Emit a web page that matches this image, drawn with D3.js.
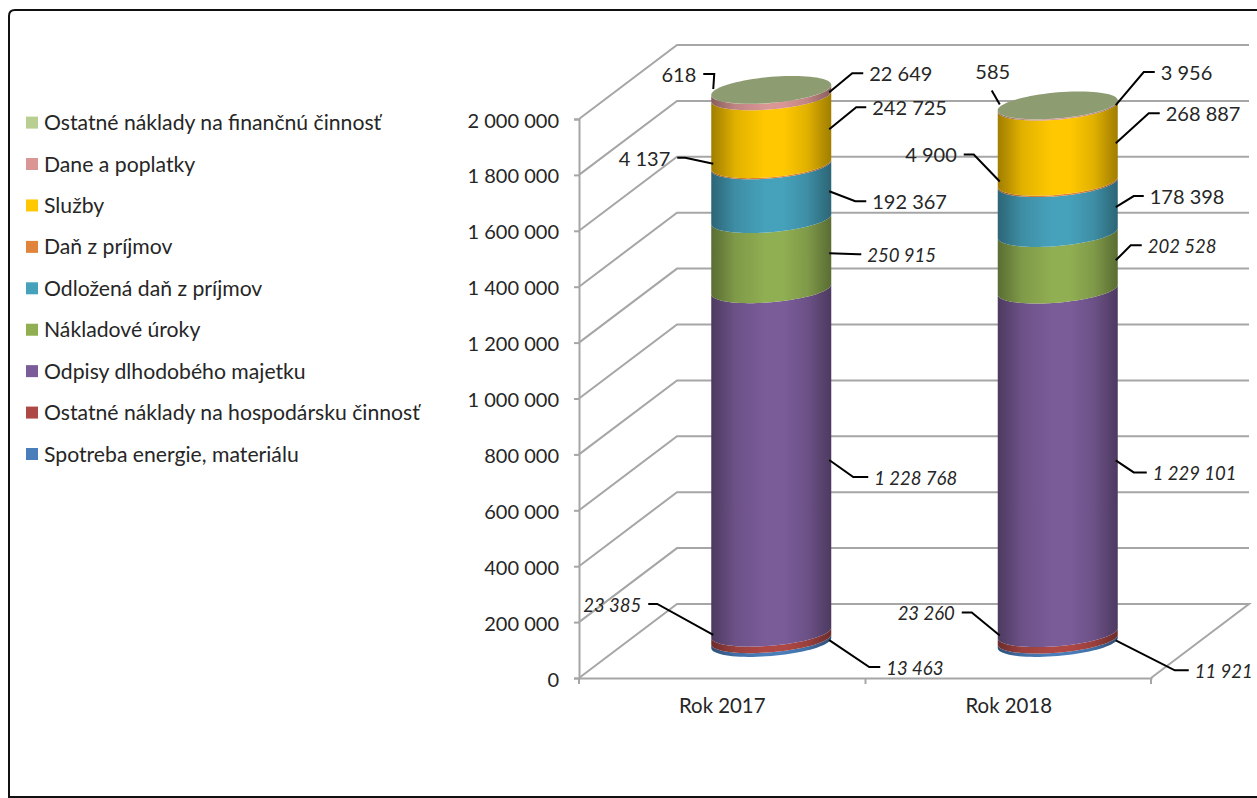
<!DOCTYPE html>
<html>
<head>
<meta charset="utf-8">
<script src="https://d3js.org/d3.v7.min.js"></script>
<style>
  body { margin: 0; background: #fff; }
  text { font-family: Lato, "Open Sans", sans-serif; fill: #262626; }
  .axis path, .axis line { stroke: #a6a6a6; stroke-width: 2; }
  .axis text { font-size: 20px; }
</style>
</head>
<body>
<div id="chart"></div>
<script>
// values
var categories = ["Rok 2017", "Rok 2018"];
var seriesNames = [
  "Spotreba energie, materiálu",
  "Ostatné náklady na hospodársku činnosť",
  "Odpisy dlhodobého majetku",
  "Nákladové úroky",
  "Odložená daň z príjmov",
  "Daň z príjmov",
  "Služby",
  "Dane a poplatky",
  "Ostatné náklady na finančnú činnosť"
];
var values2017 = [13463, 23385, 1228768, 250915, 192367, 4137, 242725, 22649, 618];
var values2018 = [11921, 23260, 1229101, 202528, 178398, 4900, 268887, 3956, 585];
var yTicks = [0, 200000, 400000, 600000, 800000, 1000000, 1200000, 1400000, 1600000, 1800000, 2000000];
var seriesColors = ["#4a7ebb", "#ae4845", "#7a5c99", "#90ae52", "#46a1bb", "#e0843c", "#ffc800", "#d99694", "#b9ce91"];
var italicSeries = [true, true, true, true, false, false, false, false, false];

// leader lines: side, elbow offset from the anchor, length of the flat end
var leaders2017 = [
  ["r", 40, 27, 11], ["l", -56, -31, -9], ["r", 24, 17, 15], ["r", 29, 1, 3], ["r", 26, 10, 11],
  ["l", -28, -6, -8], ["r", 27, -22, 10], ["r", 23, -19, 11], ["l", 1, -15, -11]
];
var leaders2018 = [
  ["r", 59, 30, 14], ["l", -28, -23, -10], ["r", 18, 12, 13], ["r", 15, -15, 11], ["r", 18, -11, 10],
  ["l", -26, -27, -10], ["r", 33, -30, 11], ["r", 28, -33, 11], ["l", -8, -14, 0]
];

var svgWidth = 1257, svgHeight = 798;
var plot = { left: 579, right: 1151, top: 119, bottom: 678 };
var depth = { x: 98, y: -74 };
var rx = 60, ry = 13, tilt = 5;

var svg = d3.select("#chart").append("svg")
  .attr("width", svgWidth)
  .attr("height", svgHeight)
  .style("display", "block");

var y = d3.scaleLinear().domain([0, 2000000]).range([plot.bottom, plot.top]);
var x = d3.scaleBand().domain(categories).range([plot.left, plot.right + 1]);

// frame
svg.append("path")
  .attr("d", "M9,798 V16 Q9,10 15,10 H1257 M9,797 H1257")
  .attr("fill", "none")
  .attr("stroke", "#111")
  .attr("stroke-width", 2);

// walls and gridlines
var grid = svg.append("g").attr("fill", "none").attr("stroke", "#a6a6a6").attr("stroke-width", 2);
grid.selectAll("path.wall")
  .data(yTicks.slice(1))
  .enter().append("path")
  .attr("class", "wall")
  .attr("d", d => `M${plot.left},${y(d)} L${plot.left + depth.x},${y(d) + depth.y} H${plot.right + depth.x}`);
grid.append("path")
  .attr("d", `M${plot.left},${y(0)} L${plot.left + depth.x},${y(0) + depth.y} H${plot.right + depth.x} L${plot.right},${y(0)}`);

// axes
var yAxis = svg.append("g")
  .attr("class", "axis")
  .attr("transform", `translate(${plot.left},0)`)
  .call(d3.axisLeft(y).tickValues(yTicks).tickSize(5).tickPadding(15)
    .tickFormat(d => d3.format(",")(d).replace(/,/g, " ")));
yAxis.selectAll("text").attr("dy", "0.4em");

var xAxis = svg.append("g")
  .attr("class", "axis")
  .attr("transform", `translate(0,${plot.bottom})`)
  .call(d3.axisBottom(x).tickSize(0).tickPadding(21));
xAxis.selectAll("text").style("font-size", "20.4px");
xAxis.selectAll("line.boundary")
  .data([plot.left, x(categories[1]), plot.right])
  .enter().append("line")
  .attr("class", "boundary")
  .attr("x1", d => d).attr("x2", d => d)
  .attr("y1", 0).attr("y2", 6);

// gradients, dark at the sides of the cylinder
var defs = svg.append("defs");
var shadeStops = [[0, 1.3], [8, 0.9], [20, 0.35], [45, 0], [60, 0], [80, 0.35], [92, 0.9], [100, 1.3]];
seriesColors.forEach(function(c, i) {
  var g = defs.append("linearGradient").attr("id", "grad" + i);
  shadeStops.forEach(function(s) {
    g.append("stop").attr("offset", s[0] + "%").attr("stop-color", d3.color(c).darker(s[1]));
  });
});

function frontCurve(cx, cy) {
  return d3.range(0, 41).map(function(i) {
    var t = Math.PI * i / 40;
    return [cx + rx * Math.cos(t), cy + ry * Math.sin(t) - tilt * Math.cos(t)];
  });
}

var baseShift = depth.y / 2 + 2;
var line = d3.line();
var fmt = d => d3.format(",")(d).replace(/,/g, " ");

function drawCylinder(category, values, leaders) {
  var cx = x(category) + x.bandwidth() / 2 + depth.x / 2;
  var g = svg.append("g");
  var cum = 0;
  var stack = values.map(function(v) {
    var s = { v0: cum, v1: cum + v };
    cum += v;
    return s;
  });

  g.selectAll("path.band")
    .data(stack)
    .enter().append("path")
    .attr("class", "band")
    .attr("fill", (d, i) => `url(#grad${i})`)
    .attr("d", function(d) {
      var low = frontCurve(cx, y(d.v0) + baseShift);
      var high = frontCurve(cx, y(d.v1) + baseShift).reverse();
      return line(low.concat(high)) + "Z";
    });

  // lid
  var topY = y(cum) + baseShift;
  var lid = frontCurve(cx, topY).concat(d3.range(1, 40).map(function(i) {
    var t = Math.PI + Math.PI * i / 40;
    return [cx + rx * Math.cos(t), topY + ry * Math.sin(t) - tilt * Math.cos(t)];
  }));
  g.append("path").attr("d", line(lid) + "Z").attr("fill", "#8e9c72");

  // leader lines and value labels
  stack.forEach(function(s, i) {
    var l = leaders[i];
    var ax = cx + (l[0] === "r" ? rx - 2 : -rx + 2);
    var ay = y((s.v0 + s.v1) / 2) + baseShift - 1;
    var ex = ax + l[1], ey = ay + l[2];
    var pts = [[ax, ay], [ex, ey], [ex + l[3], ey]];
    g.append("path")
      .attr("d", line(pts))
      .attr("fill", "none")
      .attr("stroke", "#000")
      .attr("stroke-width", 2);
    var label = g.append("text")
      .attr("font-size", italicSeries[i] ? 18.5 : 20)
      .attr("font-style", italicSeries[i] ? "italic" : "normal")
      .text(fmt(values[i]));
    if (l[3] === 0) {
      // no flat end, the label sits straight above the line
      label.attr("x", ex + 1).attr("y", ey - 11).attr("text-anchor", "middle");
    } else {
      var right = l[3] > 0;
      label.attr("x", ex + l[3] + (right ? 6 : -7))
        .attr("y", ey + 8)
        .attr("text-anchor", right ? "start" : "end");
    }
  });
}

drawCylinder(categories[0], values2017, leaders2017);
drawCylinder(categories[1], values2018, leaders2018);

// legend, top entry is the last series
var legendY = d3.scalePoint().domain(d3.range(seriesNames.length).reverse()).range([122.6, 454]);
var legend = svg.selectAll("g.legend")
  .data(seriesNames)
  .enter().append("g")
  .attr("class", "legend")
  .attr("transform", (d, i) => `translate(26,${legendY(i)})`);
legend.append("rect")
  .attr("y", -6).attr("width", 12).attr("height", 12)
  .attr("fill", (d, i) => seriesColors[i]);
legend.append("text")
  .attr("x", 18).attr("y", 7.5)
  .attr("font-size", 21.2)
  .text(d => d);
</script>
</body>
</html>
